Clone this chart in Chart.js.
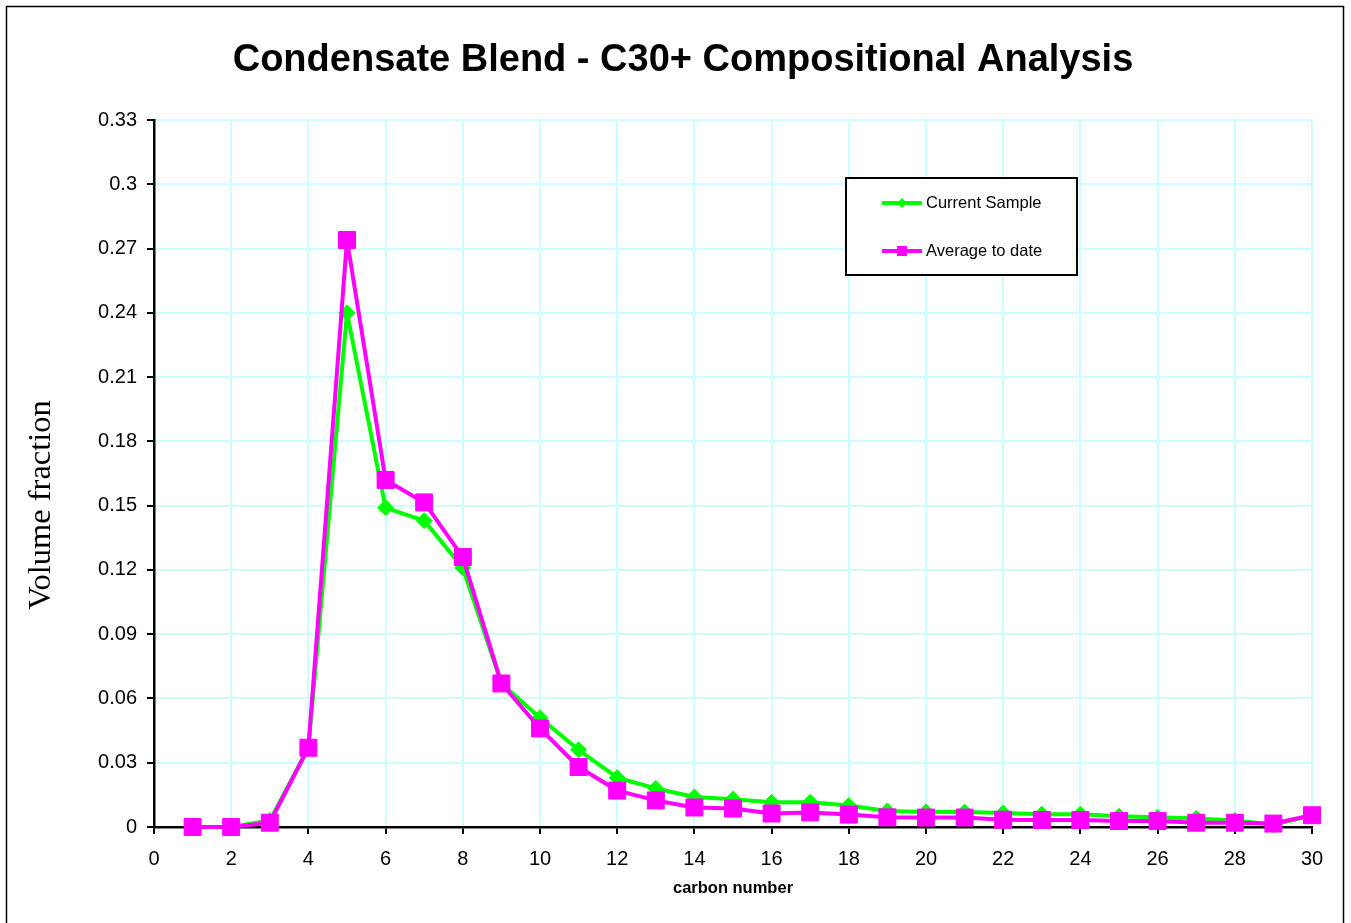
<!DOCTYPE html>
<html>
<head>
<meta charset="utf-8">
<title>Condensate Blend - C30+ Compositional Analysis</title>
<script src="https://cdn.jsdelivr.net/npm/chart.js@4/dist/chart.umd.min.js"></script>
<style>
  html, body { margin: 0; padding: 0; background: #fff; }
  #wrap { width: 1351px; height: 923px; position: relative; }
</style>
</head>
<body>
<div id="wrap"><canvas id="chart"></canvas></div>
<script>
const carbonNumbers = [1, 2, 3, 4, 5, 6, 7, 8, 9, 10, 11, 12, 13, 14, 15, 16, 17, 18, 19, 20, 21, 22, 23, 24, 25, 26, 27, 28, 29, 30];
const currentSample = [0, 0, 0.003, 0.037, 0.240, 0.149, 0.143, 0.121, 0.067, 0.051, 0.036, 0.023, 0.018, 0.014, 0.013,
  0.0115, 0.0115, 0.010, 0.0075, 0.007, 0.007, 0.0065, 0.006, 0.006, 0.005, 0.0045, 0.004, 0.003, 0.001, 0.0055];
const averageToDate = [0, 0, 0.002, 0.037, 0.274, 0.162, 0.1515, 0.126, 0.067, 0.046, 0.028, 0.017, 0.0124, 0.0091, 0.0086,
  0.0063, 0.0068, 0.0058, 0.0045, 0.0044, 0.0044, 0.0034, 0.0033, 0.0033, 0.0028, 0.0028, 0.002, 0.002, 0.0016, 0.0055];
const xTicks = [0, 2, 4, 6, 8, 10, 12, 14, 16, 18, 20, 22, 24, 26, 28, 30];
const yTicks = [0, 0.03, 0.06, 0.09, 0.12, 0.15, 0.18, 0.21, 0.24, 0.27, 0.3, 0.33];

const chartTitle = 'Condensate Blend - C30+ Compositional Analysis';
const yTitle = 'Volume fraction';

const SANS = '"Liberation Sans", Arial, sans-serif';
const SERIF = '"Liberation Serif", "Times New Roman", serif';

function toPoints(values) {
  return carbonNumbers.map((c, i) => ({ x: c, y: values[i] }));
}

// frame, chart title and y title: Excel puts these off-centre from the plot
const decor = {
  id: 'decor',
  afterDraw(chart) {
    const ctx = chart.ctx;
    ctx.save();
    ctx.strokeStyle = '#000';
    ctx.lineWidth = 1.5;
    ctx.strokeRect(6.5, 6.5, chart.width - 14, chart.height + 20);

    ctx.fillStyle = '#000';
    ctx.textAlign = 'center';
    ctx.textBaseline = 'middle';
    ctx.font = 'bold 38px ' + SANS;
    ctx.fillText(chartTitle, 683, 61);

    ctx.translate(41, 505);
    ctx.rotate(-Math.PI / 2);
    ctx.font = '32.5px ' + SERIF;
    ctx.fillText(yTitle, 0, 0);
    ctx.restore();
  }
};

// boxed legend floating inside the plot area
const boxLegend = {
  id: 'boxLegend',
  afterDraw(chart) {
    const ctx = chart.ctx;
    const x0 = 846, y0 = 178, w = 231, h = 97;
    ctx.save();
    ctx.fillStyle = '#fff';
    ctx.fillRect(x0, y0, w, h);
    ctx.strokeStyle = '#000';
    ctx.lineWidth = 2;
    ctx.strokeRect(x0, y0, w, h);
    chart.data.datasets.forEach((ds, i) => {
      const y = y0 + 25 + i * 48;
      ctx.strokeStyle = ds.borderColor;
      ctx.lineWidth = 4;
      ctx.beginPath();
      ctx.moveTo(x0 + 36, y);
      ctx.lineTo(x0 + 76, y);
      ctx.stroke();
      ctx.fillStyle = ds.backgroundColor;
      ctx.beginPath();
      if (ds.pointStyle === 'rectRot') {
        const r = 5;
        ctx.moveTo(x0 + 56 - r, y);
        ctx.lineTo(x0 + 56, y - r);
        ctx.lineTo(x0 + 56 + r, y);
        ctx.lineTo(x0 + 56, y + r);
        ctx.closePath();
      } else {
        ctx.rect(x0 + 51, y - 5, 10, 10);
      }
      ctx.fill();
      ctx.fillStyle = '#000';
      ctx.font = '16.5px ' + SANS;
      ctx.textBaseline = 'middle';
      ctx.textAlign = 'left';
      ctx.fillText(ds.label, x0 + 80, y);
    });
    ctx.restore();
  }
};

new Chart(document.getElementById('chart'), {
  type: 'line',
  data: {
    datasets: [
      {
        label: 'Current Sample',
        data: toPoints(currentSample),
        borderColor: '#00ff00',
        backgroundColor: '#00ff00',
        borderWidth: 4,
        borderJoinStyle: 'round',
        pointStyle: 'rectRot',
        pointRadius: 8,
        pointBorderWidth: 1,
        tension: 0,
        clip: false,
        order: 2
      },
      {
        label: 'Average to date',
        data: toPoints(averageToDate),
        borderColor: '#ff00ff',
        backgroundColor: '#ff00ff',
        borderWidth: 4,
        borderJoinStyle: 'round',
        pointStyle: 'rect',
        pointRadius: 12,
        pointBorderWidth: 1,
        tension: 0,
        clip: false,
        order: 1
      }
    ]
  },
  options: {
    responsive: true,
    maintainAspectRatio: false,
    animation: false,
    layout: { padding: { left: 0, right: 39, top: 120, bottom: 0 } },
    plugins: {
      legend: { display: false },
      tooltip: { enabled: false },
      title: { display: false }
    },
    scales: {
      x: {
        type: 'linear',
        min: 0,
        max: 30,
        afterBuildTicks: s => { s.ticks = xTicks.map(v => ({ value: v })); },
        afterFit: s => { s.height = 96; },
        grid: { color: '#ccffff', lineWidth: 2, tickColor: '#000', tickLength: 7, tickWidth: 2 },
        border: { color: '#000', width: 2.5 },
        ticks: { color: '#000', font: { family: SANS, size: 20 }, padding: 13, maxRotation: 0 },
        title: {
          display: true,
          text: 'carbon number',
          color: '#000',
          font: { family: SANS, size: 16.5, weight: 'bold', lineHeight: 1.2 },
          padding: { top: 0, bottom: 25 }
        }
      },
      y: {
        min: 0,
        max: 0.33,
        afterBuildTicks: s => { s.ticks = yTicks.map(v => ({ value: v })); },
        afterFit: s => { s.width = 154; },
        grid: { color: '#ccffff', lineWidth: 2, tickColor: '#000', tickLength: 7, tickWidth: 2 },
        border: { color: '#000', width: 2.5 },
        ticks: {
          color: '#000',
          font: { family: SANS, size: 20 },
          padding: 10,
          callback: v => String(parseFloat(v.toFixed(2)))
        }
      }
    }
  },
  plugins: [decor, boxLegend]
});
</script>
</body>
</html>
